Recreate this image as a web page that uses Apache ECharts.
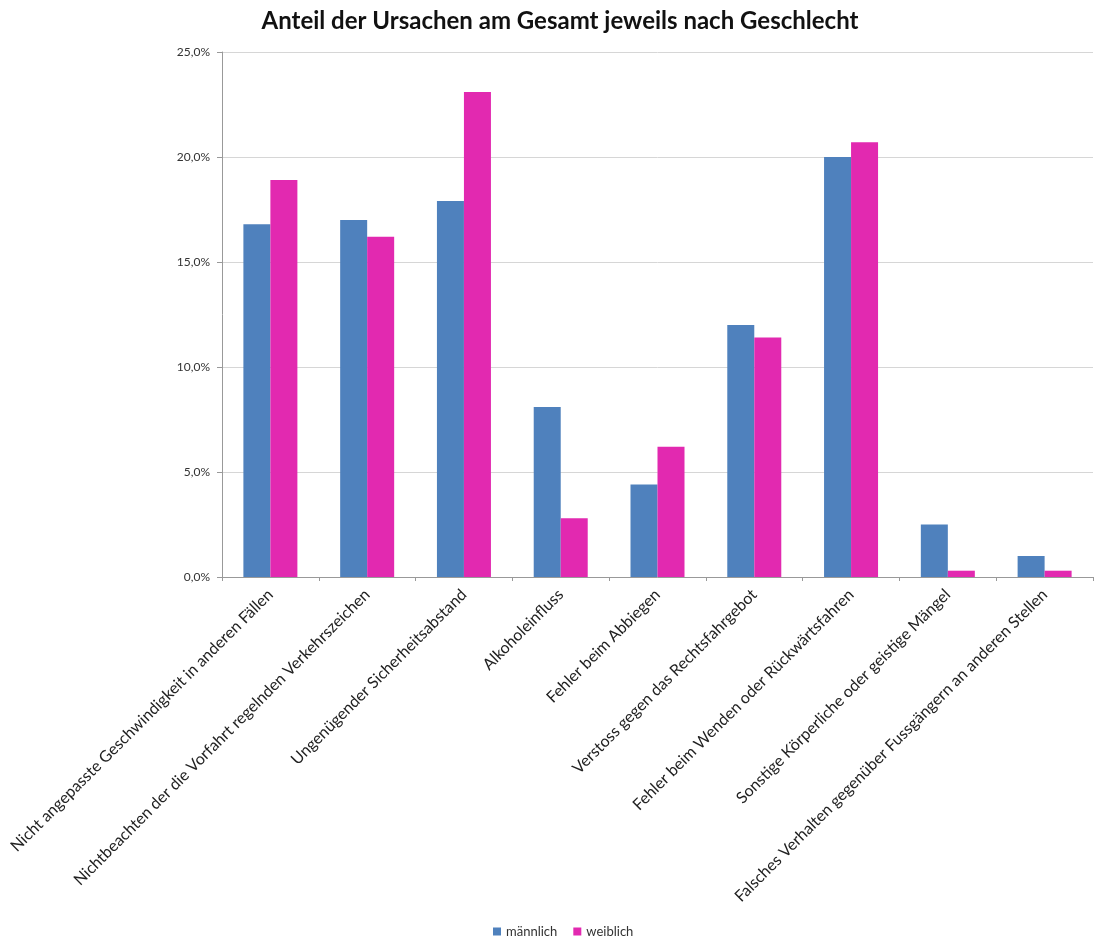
<!DOCTYPE html>
<html>
<head>
<meta charset="utf-8">
<script src="https://cdn.jsdelivr.net/npm/echarts@6/dist/echarts.min.js"></script>
<style>
  html, body { margin: 0; padding: 0; background: #fff; }
  #chart { width: 1094px; height: 943px; }
</style>
</head>
<body>
<div id="chart"></div>
<script>
// Ursachen (Kategorien)
var categories = [
  'Nicht angepasste Geschwindigkeit in anderen Fällen',
  'Nichtbeachten der die Vorfahrt regelnden Verkehrszeichen',
  'Ungenügender Sicherheitsabstand',
  'Alkoholeinfluss',
  'Fehler beim Abbiegen',
  'Verstoss gegen das Rechtsfahrgebot',
  'Fehler beim Wenden oder Rückwärtsfahren',
  'Sonstige Körperliche oder geistige Mängel',
  'Falsches Verhalten gegenüber Fussgängern an anderen Stellen'
]
// Anteile in %
var maennlich = [16.8, 17.0, 17.9, 8.1, 4.4, 12.0, 20.0, 2.5, 1.0]
var weiblich = [18.9, 16.2, 23.1, 2.8, 6.2, 11.4, 20.7, 0.3, 0.3]

var font = 'Lato, "Open Sans", sans-serif'
var chart = echarts.init(document.getElementById('chart'))

chart.setOption({
  animation: false,
  color: ['#4F81BD', '#E229B0'],
  title: {
    text: 'Anteil der Ursachen am Gesamt jeweils nach Geschlecht',
    left: 555,
    textAlign: 'center',
    top: 4,
    textStyle: { fontFamily: font, fontSize: 24, fontWeight: 'bold', color: '#111' }
  },
  legend: {
    bottom: 0,
    left: 488,
    icon: 'rect',
    itemWidth: 8,
    itemHeight: 8,
    itemGap: 16,
    textStyle: { fontFamily: font, fontSize: 13, color: '#333' },
    data: ['männlich', 'weiblich']
  },
  grid: { left: 222, right: 1, top: 52, bottom: 366 },
  xAxis: {
    type: 'category',
    data: categories,
    axisLine: { lineStyle: { color: '#999' } },
    axisTick: { show: true, length: 4, lineStyle: { color: '#999' } },
    axisLabel: {
      rotate: 45,
      interval: 0,
      margin: 15,
      fontFamily: font,
      fontSize: 16,
      color: '#222'
    }
  },
  yAxis: {
    type: 'value',
    min: 0,
    max: 25,
    interval: 5,
    axisLine: { show: true, lineStyle: { color: '#999' } },
    axisTick: { show: true, length: 5, lineStyle: { color: '#999' } },
    splitLine: { lineStyle: { color: '#d6d6d6' } },
    axisLabel: {
      margin: 12,
      fontFamily: font,
      fontSize: 12,
      color: '#333',
      formatter: function (v) { return v.toFixed(1).replace('.', ',') + '%' }
    }
  },
  series: [
    {
      name: 'männlich',
      type: 'bar',
      data: maennlich,
      barWidth: 27,
      barGap: '0%'
    },
    {
      name: 'weiblich',
      type: 'bar',
      data: weiblich,
      barWidth: 27,
      barGap: '0%'
    }
  ]
})
</script>
</body>
</html>
